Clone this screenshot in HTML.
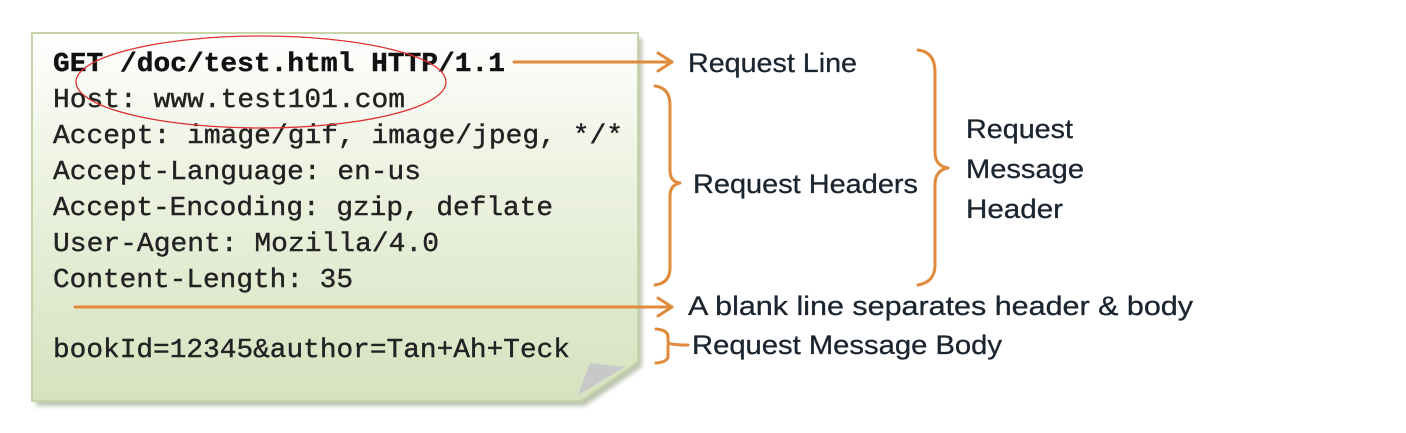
<!DOCTYPE html>
<html><head><meta charset="utf-8"><style>
html,body{margin:0;padding:0;background:#fff;}
</style></head><body>
<svg width="1406" height="428" xmlns="http://www.w3.org/2000/svg">
<defs>
<linearGradient id="g" x1="0" y1="0" x2="0" y2="1">
<stop offset="0" stop-color="#ffffff"/>
<stop offset="0.35" stop-color="#eef3e3"/>
<stop offset="1" stop-color="#d6e2bf"/>
</linearGradient>
<filter id="sh" x="-5%" y="-5%" width="110%" height="110%"><feGaussianBlur stdDeviation="2"/></filter>
</defs>
<polygon points="36,38 642,38 642,367 585,406 36,406" fill="#bcc4b0" filter="url(#sh)"/>
<polygon points="32,33 638,33 638,362 581,401 32,401" fill="url(#g)" stroke="#c5d5a8" stroke-width="2"/>
<polygon points="590,363 625,367 578,395" fill="#c8c8c8"/>
<g font-family="Liberation Mono, monospace" font-size="27" fill="#222" stroke="#222" stroke-width="0.4" lengthAdjust="spacingAndGlyphs">
<text x="53" y="71" font-weight="bold" fill="#111" stroke="#111" textLength="452" lengthAdjust="spacingAndGlyphs">GET /doc/test.html HTTP/1.1</text>
<text x="53" y="107" textLength="352" lengthAdjust="spacingAndGlyphs">Host: www.test101.com</text>
<text x="53" y="143" textLength="570" lengthAdjust="spacingAndGlyphs">Accept: image/gif, image/jpeg, */*</text>
<text x="53" y="179" textLength="368" lengthAdjust="spacingAndGlyphs">Accept-Language: en-us</text>
<text x="53" y="215" textLength="500" lengthAdjust="spacingAndGlyphs">Accept-Encoding: gzip, deflate</text>
<text x="53" y="251" textLength="386" lengthAdjust="spacingAndGlyphs">User-Agent: Mozilla/4.0</text>
<text x="53" y="287" textLength="300" lengthAdjust="spacingAndGlyphs">Content-Length: 35</text>
<text x="53" y="357" textLength="517" lengthAdjust="spacingAndGlyphs">bookId=12345&amp;author=Tan+Ah+Teck</text>
</g>
<ellipse cx="261" cy="82" rx="185" ry="46" fill="none" stroke="#e03030" stroke-width="1.3"/>
<g stroke="#e08a3c" stroke-width="3" fill="none" stroke-linecap="round" stroke-linejoin="round">
<line x1="514" y1="62" x2="672" y2="62"/>
<polyline points="658,53 672,62 658,71"/>
<line x1="75" y1="307" x2="672" y2="307"/>
<polyline points="658,298 672,307 658,316"/>
<path d="M655,86 Q670,88 670,105 L670,170 Q670,182 680,183 Q670,185 670,196 L670,268 Q670,283 655,285"/>
<path d="M918,50 Q935,52 935,72 L935,152 Q935,166 948,168 Q935,170 935,185 L935,265 Q935,282 918,285"/>
<path d="M656,329 Q668,330 668,337 L668,342 Q668,345 688,345 M668,345 Q668,348 668,352 L668,356 Q668,362 656,363"/>
</g>
<g font-family="Liberation Sans, sans-serif" font-size="27" fill="#1b2530" stroke="#1b2530" stroke-width="0.3">
<text x="688" y="72" textLength="169" lengthAdjust="spacingAndGlyphs">Request Line</text>
<text x="693" y="193" textLength="225" lengthAdjust="spacingAndGlyphs">Request Headers</text>
<text x="966" y="138" textLength="107" lengthAdjust="spacingAndGlyphs">Request</text>
<text x="966" y="178" textLength="118" lengthAdjust="spacingAndGlyphs">Message</text>
<text x="966" y="218" textLength="97" lengthAdjust="spacingAndGlyphs">Header</text>
<text x="688" y="315" textLength="505" lengthAdjust="spacingAndGlyphs">A blank line separates header &amp; body</text>
<text x="692" y="354" textLength="310" lengthAdjust="spacingAndGlyphs">Request Message Body</text>
</g>
</svg>
</body></html>
